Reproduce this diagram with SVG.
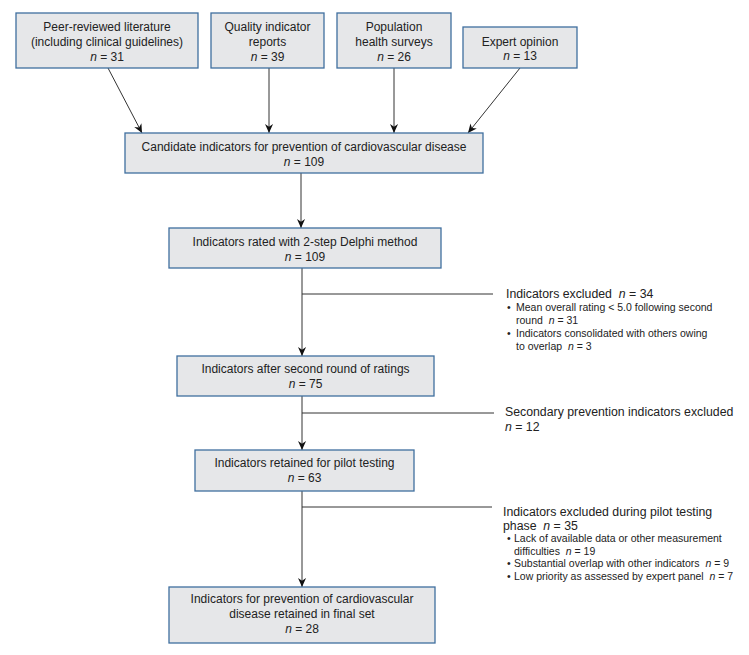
<svg xmlns="http://www.w3.org/2000/svg" width="749" height="655" viewBox="0 0 749 655">
<style>
.box{fill:#e6e7e9;stroke:#3f6f9f;stroke-width:1.3}
.t{font-family:"Liberation Sans",Arial,sans-serif;font-size:12px;fill:#222;text-anchor:middle}
.h{font-family:"Liberation Sans",Arial,sans-serif;font-size:12.3px;fill:#222;white-space:pre}
.b{font-family:"Liberation Sans",Arial,sans-serif;font-size:10.5px;fill:#222;white-space:pre}
.i{font-style:italic}
.ln{stroke:#333;stroke-width:1;fill:none}
</style>
<defs>
<marker id="ah" viewBox="0 0 10 10" refX="10" refY="5" markerWidth="9" markerHeight="9" markerUnits="userSpaceOnUse" orient="auto">
<path d="M0,0.5 L10,5 L0,9.5 L3,5 z" fill="#111"/>
</marker>
</defs>
<rect width="749" height="655" fill="#fff"/>
<g id="connectors">
<line class="ln" x1="108" y1="68" x2="142" y2="133" marker-end="url(#ah)"/>
<line class="ln" x1="269" y1="68" x2="269" y2="133" marker-end="url(#ah)"/>
<line class="ln" x1="394" y1="68" x2="394" y2="133" marker-end="url(#ah)"/>
<line class="ln" x1="520" y1="68" x2="468" y2="133" marker-end="url(#ah)"/>
<line class="ln" x1="301" y1="173" x2="301" y2="228" marker-end="url(#ah)"/>
<line class="ln" x1="302" y1="268" x2="302" y2="356" marker-end="url(#ah)"/>
<line class="ln" x1="302" y1="294" x2="493" y2="294"/>
<line class="ln" x1="302" y1="396" x2="302" y2="450" marker-end="url(#ah)"/>
<line class="ln" x1="302" y1="413" x2="494" y2="413"/>
<line class="ln" x1="302" y1="491" x2="302" y2="587" marker-end="url(#ah)"/>
<line class="ln" x1="302" y1="507" x2="492" y2="507"/>
</g>
<g id="n1">
<rect class="box" x="16" y="13" width="182" height="55"/>
<text class="t" x="107" y="31">Peer-reviewed literature</text>
<text class="t" x="107" y="46">(including clinical guidelines)</text>
<text class="t" x="107" y="61"><tspan class="i">n</tspan> = 31</text>
</g>
<g id="n2">
<rect class="box" x="211" y="13" width="113" height="55"/>
<text class="t" x="267.5" y="31">Quality indicator</text>
<text class="t" x="267.5" y="46">reports</text>
<text class="t" x="267.5" y="61"><tspan class="i">n</tspan> = 39</text>
</g>
<g id="n3">
<rect class="box" x="337" y="13" width="114" height="55"/>
<text class="t" x="394" y="31">Population</text>
<text class="t" x="394" y="46">health surveys</text>
<text class="t" x="394" y="61"><tspan class="i">n</tspan> = 26</text>
</g>
<g id="n4">
<rect class="box" x="463" y="27" width="114" height="41"/>
<text class="t" x="520" y="46">Expert opinion</text>
<text class="t" x="520" y="60"><tspan class="i">n</tspan> = 13</text>
</g>
<g id="n5">
<rect class="box" x="125" y="133" width="358" height="40"/>
<text class="t" x="304" y="151">Candidate indicators for prevention of cardiovascular disease</text>
<text class="t" x="304" y="166"><tspan class="i">n</tspan> = 109</text>
</g>
<g id="n6">
<rect class="box" x="169" y="228" width="272" height="40"/>
<text class="t" x="305" y="246">Indicators rated with 2-step Delphi method</text>
<text class="t" x="305" y="261"><tspan class="i">n</tspan> = 109</text>
</g>
<g id="n7">
<rect class="box" x="177" y="356" width="257" height="40"/>
<text class="t" x="305.5" y="373">Indicators after second round of ratings</text>
<text class="t" x="305.5" y="388"><tspan class="i">n</tspan> = 75</text>
</g>
<g id="n8">
<rect class="box" x="195" y="450" width="219" height="41"/>
<text class="t" x="304.5" y="467">Indicators retained for pilot testing</text>
<text class="t" x="304.5" y="482"><tspan class="i">n</tspan> = 63</text>
</g>
<g id="n9">
<rect class="box" x="169" y="587" width="266" height="56"/>
<text class="t" x="302" y="603">Indicators for prevention of cardiovascular</text>
<text class="t" x="302" y="618">disease retained in final set</text>
<text class="t" x="302" y="633"><tspan class="i">n</tspan> = 28</text>
</g>
<g id="e1">
<text class="h" x="506" y="298">Indicators excluded  <tspan class="i">n</tspan> = 34</text>
<text class="b" x="507" y="311">•</text>
<text class="b" x="516" y="311">Mean overall rating &lt; 5.0 following second</text>
<text class="b" x="516" y="324">round  <tspan class="i">n</tspan> = 31</text>
<text class="b" x="507" y="337">•</text>
<text class="b" x="516" y="337">Indicators consolidated with others owing</text>
<text class="b" x="516" y="350">to overlap  <tspan class="i">n</tspan> = 3</text>
</g>
<g id="e2">
<text class="h" x="505" y="416">Secondary prevention indicators excluded</text>
<text class="h" x="505" y="431"><tspan class="i">n</tspan> = 12</text>
</g>
<g id="e3">
<text class="h" x="503" y="516">Indicators excluded during pilot testing</text>
<text class="h" x="503" y="530">phase  <tspan class="i">n</tspan> = 35</text>
<text class="b" x="507" y="542">•</text>
<text class="b" x="514" y="542">Lack of available data or other measurement</text>
<text class="b" x="514" y="554.5">difficulties  <tspan class="i">n</tspan> = 19</text>
<text class="b" x="507" y="567">•</text>
<text class="b" x="514" y="567">Substantial overlap with other indicators  <tspan class="i">n</tspan> = 9</text>
<text class="b" x="507" y="579.5">•</text>
<text class="b" x="514" y="579.5">Low priority as assessed by expert panel  <tspan class="i">n</tspan> = 7</text>
</g>
</svg>
